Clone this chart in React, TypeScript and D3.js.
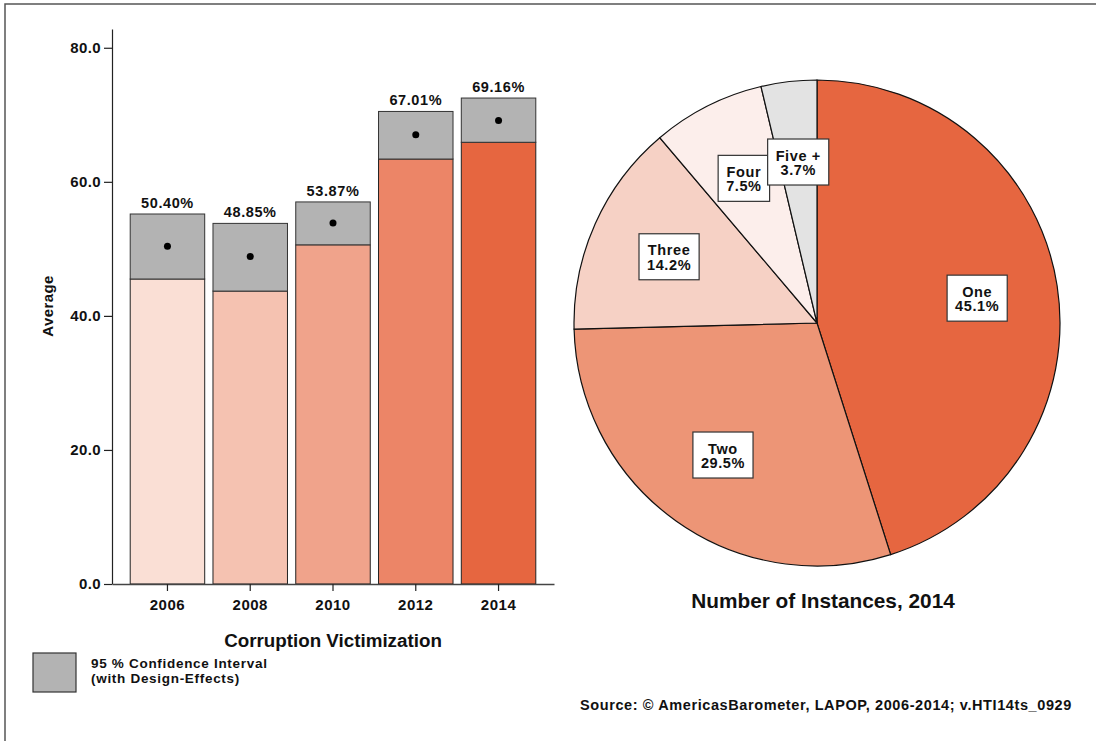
import React, { useEffect, useRef } from "react";
import * as d3 from "d3";

const years = ["2006", "2008", "2010", "2012", "2014"];
const means = [50.4, 48.85, 53.87, 67.01, 69.16];
const ciLow = [45.5, 43.7, 50.6, 63.4, 65.9];
const ciHigh = [55.2, 53.8, 57.0, 70.5, 72.5];
const barColors = ["#fadfd5", "#f5c2b1", "#f0a38b", "#ec8567", "#e66640"];
const yTicks = [0, 20, 40, 60, 80];

const pieLabels = ["One", "Two", "Three", "Four", "Five +"];
const pieValues = [45.1, 29.5, 14.2, 7.5, 3.7];
const pieColors = ["#e66640", "#ed9576", "#f6d1c5", "#fceeeb", "#e3e3e3"];

const FONT = "'Liberation Sans', Arial, sans-serif";

const App = () => {
  const ref = useRef<SVGSVGElement>(null);

  useEffect(() => {
    const svg = d3.select(ref.current);
    svg.selectAll("*").remove();

    // outer frame (only top and left edges show)
    svg
      .append("rect")
      .attr("x", 5)
      .attr("y", 4)
      .attr("width", 1200)
      .attr("height", 800)
      .attr("fill", "none")
      .attr("stroke", "#555")
      .attr("stroke-width", 1.5);

    // ---- bar chart ----
    const x = d3.scaleBand().domain(years).range([112, 554]).paddingInner(0.1).paddingOuter(0.22);
    const y = d3.scaleLinear().domain([0, 82.8]).range([584, 29]);

    const g = svg.append("g").attr("font-family", FONT);

    const bars = g.selectAll(".bar").data(years).enter().append("g");

    bars
      .append("rect")
      .attr("x", (d) => x(d)!)
      .attr("width", x.bandwidth())
      .attr("y", (d, i) => y(ciLow[i]))
      .attr("height", (d, i) => y(0) - y(ciLow[i]))
      .attr("fill", (d, i) => barColors[i])
      .attr("stroke", "#222")
      .attr("stroke-width", 1);

    bars
      .append("rect")
      .attr("x", (d) => x(d)!)
      .attr("width", x.bandwidth())
      .attr("y", (d, i) => y(ciHigh[i]))
      .attr("height", (d, i) => y(ciLow[i]) - y(ciHigh[i]))
      .attr("fill", "#b3b3b3")
      .attr("stroke", "#333")
      .attr("stroke-width", 1);

    bars
      .append("circle")
      .attr("cx", (d) => x(d)! + x.bandwidth() / 2)
      .attr("cy", (d, i) => y(means[i]))
      .attr("r", 3.5)
      .attr("fill", "#000");

    bars
      .append("text")
      .attr("x", (d) => x(d)! + x.bandwidth() / 2)
      .attr("y", (d, i) => y(ciHigh[i]) - 6)
      .attr("text-anchor", "middle")
      .attr("font-size", 14.5)
      .attr("letter-spacing", 0.6)
      .attr("font-weight", "bold")
      .attr("fill", "#111")
      .text((d, i) => `${means[i].toFixed(2)}%`);

    // axes
    const yAxis = g
      .append("g")
      .attr("transform", "translate(112,0)")
      .call(
        d3
          .axisLeft(y)
          .tickValues(yTicks)
          .tickFormat(d3.format(".1f"))
          .tickSize(8)
          .tickSizeOuter(0)
      );
    yAxis.select(".domain").attr("stroke", "#222").attr("stroke-width", 1.2);
    yAxis.selectAll(".tick line").attr("stroke", "#222").attr("stroke-width", 1.2);
    yAxis
      .selectAll(".tick text")
      .attr("font-family", FONT)
      .attr("font-size", 15)
      .attr("letter-spacing", 0.4)
      .attr("font-weight", "bold")
      .attr("fill", "#111")
      .attr("x", -11);

    const xAxis = g
      .append("g")
      .attr("transform", "translate(0,584)")
      .call(d3.axisBottom(x).tickSize(7).tickSizeOuter(0));
    xAxis.select(".domain").attr("stroke", "#444").attr("stroke-width", 1.5);
    xAxis.selectAll(".tick line").attr("stroke", "#222").attr("stroke-width", 1.2);
    xAxis
      .selectAll(".tick text")
      .attr("font-family", FONT)
      .attr("font-size", 15)
      .attr("letter-spacing", 0.5)
      .attr("font-weight", "bold")
      .attr("fill", "#111")
      .attr("y", 15);

    g.append("text")
      .attr("transform", "translate(53,306) rotate(-90)")
      .attr("text-anchor", "middle")
      .attr("font-size", 15)
      .attr("letter-spacing", 0.4)
      .attr("font-weight", "bold")
      .attr("fill", "#111")
      .text("Average");

    g.append("text")
      .attr("x", 333)
      .attr("y", 647)
      .attr("text-anchor", "middle")
      .attr("font-size", 18.8)
      .attr("font-weight", "bold")
      .attr("fill", "#111")
      .text("Corruption Victimization");

    // legend
    g.append("rect")
      .attr("x", 33)
      .attr("y", 653)
      .attr("width", 43)
      .attr("height", 39)
      .attr("fill", "#b3b3b3")
      .attr("stroke", "#333")
      .attr("stroke-width", 1.2);
    const leg = g
      .append("text")
      .attr("font-size", 13.5)
      .attr("letter-spacing", 0.7)
      .attr("font-weight", "bold")
      .attr("fill", "#111");
    leg.append("tspan").attr("x", 91).attr("y", 668).text("95 % Confidence Interval");
    leg.append("tspan").attr("x", 91).attr("y", 683).text("(with Design-Effects)");

    // ---- pie chart ----
    const cx = 817;
    const cy = 323;
    const r = 243;
    const pie = d3.pie<number>().sort(null).value((d) => d);
    const arcs = pie(pieValues);
    const arc = d3.arc<d3.PieArcDatum<number>>().innerRadius(0).outerRadius(r);
    const labelArc = d3.arc<d3.PieArcDatum<number>>().innerRadius(r * 0.667).outerRadius(r * 0.667);

    const pg = svg.append("g").attr("transform", `translate(${cx},${cy})`).attr("font-family", FONT);

    pg.selectAll(".slice")
      .data(arcs)
      .enter()
      .append("path")
      .attr("d", arc)
      .attr("fill", (d, i) => pieColors[i])
      .attr("stroke", "#111")
      .attr("stroke-width", 1.2);

    const labels = pg
      .selectAll(".lbl")
      .data(arcs)
      .enter()
      .append("g")
      .attr("transform", (d) => `translate(${labelArc.centroid(d)})`);

    labels.each(function (d, i) {
      const lg = d3.select(this);
      const rect = lg.append("rect");
      const t = lg
        .append("text")
        .attr("text-anchor", "middle")
        .attr("font-size", 14.5)
        .attr("letter-spacing", 0.6)
        .attr("font-weight", "bold")
        .attr("fill", "#111");
      t.append("tspan").attr("x", 0).attr("y", -1.5).text(pieLabels[i]);
      t.append("tspan").attr("x", 0).attr("y", 13).text(`${pieValues[i].toFixed(1)}%`);
      const bb = (t.node() as SVGTextElement).getBBox();
      const w = bb.width + 16;
      rect
        .attr("x", -w / 2)
        .attr("y", -23)
        .attr("width", w)
        .attr("height", 46)
        .attr("fill", "#fff")
        .attr("stroke", "#333")
        .attr("stroke-width", 1.2);
    });

    svg
      .append("text")
      .attr("x", 823)
      .attr("y", 608)
      .attr("text-anchor", "middle")
      .attr("font-family", FONT)
      .attr("font-size", 20.8)
      .attr("font-weight", "bold")
      .attr("fill", "#111")
      .text("Number of Instances, 2014");

    svg
      .append("text")
      .attr("x", 580)
      .attr("y", 710)
      .attr("font-family", FONT)
      .attr("font-size", 14.5)
      .attr("letter-spacing", 0.6)
      .attr("font-weight", "bold")
      .attr("fill", "#111")
      .text("Source: © AmericasBarometer, LAPOP, 2006-2014; v.HTI14ts_0929");
  }, []);

  return (
    <svg
      ref={ref}
      width={1096}
      height={741}
      style={{ position: "absolute", left: 0, top: 0, background: "#fff" }}
    ></svg>
  );
};

export default App;
